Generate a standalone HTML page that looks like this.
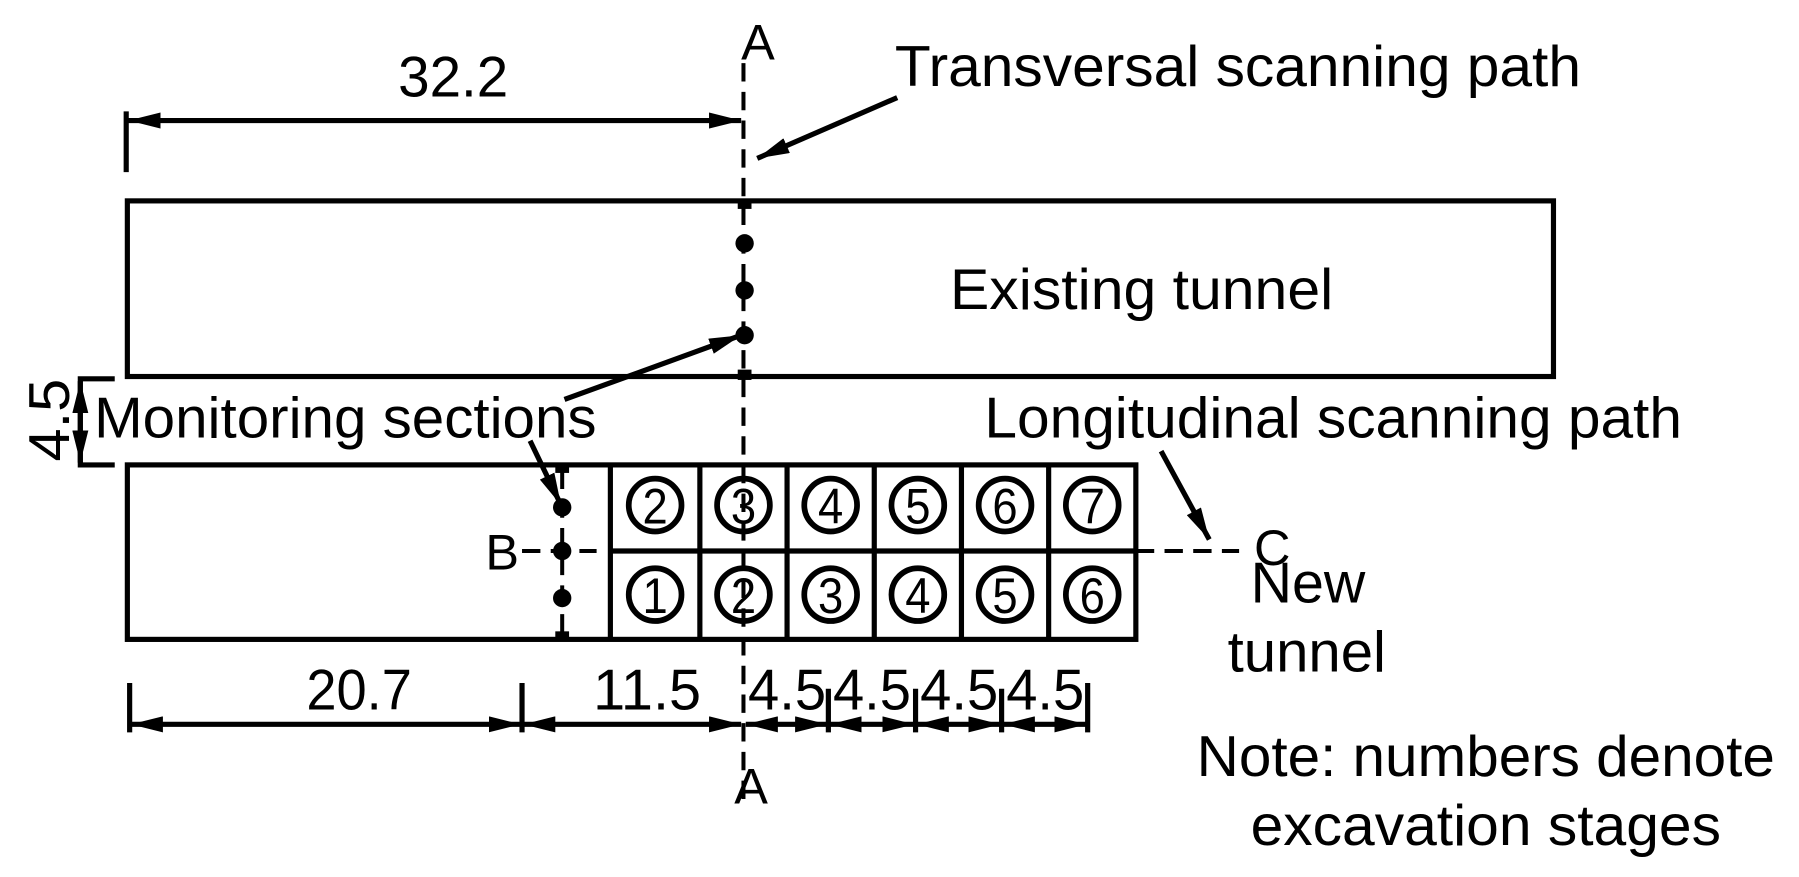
<!DOCTYPE html>
<html><head><meta charset="utf-8"><style>html,body{margin:0;padding:0;background:#fff}svg{display:block}</style></head>
<body>
<svg width="1799" height="877" viewBox="0 0 1568 764" preserveAspectRatio="none" xmlns="http://www.w3.org/2000/svg">
<defs>
<marker id="big" markerWidth="28" markerHeight="14" refX="28" refY="7" orient="auto-start-reverse" markerUnits="userSpaceOnUse"><path d="M0,0 L28,7 L0,14 z" fill="#000"/></marker>
</defs>
<g fill="none" stroke="#000" stroke-width="4.5">
<rect x="111" y="175" width="1243" height="153"/>
<rect x="111" y="405" width="879" height="152"/>
<path d="M532 405V557M610 405V557M686 405V557M762 405V557M838 405V557M914 405V557M532 480H990"/>
<path d="M648 55V700" stroke-width="3.5" stroke-dasharray="16,9"/>
<path d="M490 410V555" stroke-width="3.5" stroke-dasharray="16,9"/>
<path d="M455 480H520M990 480H1080" stroke-width="3.5" stroke-dasharray="16,9"/>
<path d="M110 97V150"/>
<path d="M112 105H646" marker-start="url(#big)" marker-end="url(#big)"/>
<path d="M100 330H70V405H100"/>
<path d="M70 332V403" marker-start="url(#big)" marker-end="url(#big)"/>
<path d="M113 595V638M455 595V638M948 595V638M722 600V638M798 600V638M873 600V638"/>
<path d="M114 631H454" marker-start="url(#big)" marker-end="url(#big)"/>
<path d="M456 631H646" marker-start="url(#big)" marker-end="url(#big)"/>
<path d="M650 631H721" marker-start="url(#big)" marker-end="url(#big)"/>
<path d="M723 631H797" marker-start="url(#big)" marker-end="url(#big)"/>
<path d="M799 631H872" marker-start="url(#big)" marker-end="url(#big)"/>
<path d="M874 631H947" marker-start="url(#big)" marker-end="url(#big)"/>
<path d="M782 85L660 138" marker-end="url(#big)"/>
<path d="M492 348L646 292" marker-end="url(#big)"/>
<path d="M462 384L489 440" marker-end="url(#big)"/>
<path d="M1012 393L1054 470" marker-end="url(#big)"/>
<g stroke-width="5">
<circle cx="571" cy="440" r="23"/><circle cx="648" cy="440" r="23"/><circle cx="724" cy="440" r="23"/><circle cx="800" cy="440" r="23"/><circle cx="876" cy="440" r="23"/><circle cx="952" cy="440" r="23"/>
<circle cx="571" cy="518" r="23"/><circle cx="648" cy="518" r="23"/><circle cx="724" cy="518" r="23"/><circle cx="800" cy="518" r="23"/><circle cx="876" cy="518" r="23"/><circle cx="952" cy="518" r="23"/>
</g>
</g>
<g fill="#000">
<circle cx="649" cy="212" r="8"/><circle cx="649" cy="253" r="8"/><circle cx="649" cy="292" r="8"/>
<rect x="643" y="173" width="12" height="9"/><rect x="643" y="322" width="12" height="9"/>
<circle cx="490" cy="442" r="8"/><circle cx="490" cy="480" r="8"/><circle cx="490" cy="521" r="8"/>
<rect x="484" y="405" width="12" height="7"/><rect x="484" y="550" width="12" height="8"/>
</g>
<g font-family="'Liberation Sans',sans-serif" font-size="50" fill="#000">
<text x="347" y="84" textLength="96" lengthAdjust="spacingAndGlyphs">32.2</text>
<text x="646" y="52" font-size="44">A</text>
<text x="640" y="700" font-size="44">A</text>
<text x="423" y="496" font-size="44">B</text>
<text x="1093" y="492" font-size="44">C</text>
<text x="780" y="75" textLength="598" lengthAdjust="spacingAndGlyphs">Transversal scanning path</text>
<text x="828" y="269" textLength="334" lengthAdjust="spacingAndGlyphs">Existing tunnel</text>
<text x="82" y="381" textLength="438" lengthAdjust="spacingAndGlyphs">Monitoring sections</text>
<text x="858" y="381" textLength="608" lengthAdjust="spacingAndGlyphs">Longitudinal scanning path</text>
<text x="1090" y="525" textLength="100" lengthAdjust="spacingAndGlyphs">New</text>
<text x="1070" y="585" textLength="138" lengthAdjust="spacingAndGlyphs">tunnel</text>
<text x="1043" y="676" textLength="504" lengthAdjust="spacingAndGlyphs">Note: numbers denote</text>
<text x="1090" y="736" textLength="410" lengthAdjust="spacingAndGlyphs">excavation stages</text>
<text x="267" y="618" textLength="92" lengthAdjust="spacingAndGlyphs">20.7</text>
<text x="517" y="618" textLength="94" lengthAdjust="spacingAndGlyphs">11.5</text>
<text x="652" y="618" textLength="68" lengthAdjust="spacingAndGlyphs">4.5</text>
<text x="726" y="618" textLength="68" lengthAdjust="spacingAndGlyphs">4.5</text>
<text x="802" y="618" textLength="68" lengthAdjust="spacingAndGlyphs">4.5</text>
<text x="877" y="618" textLength="68" lengthAdjust="spacingAndGlyphs">4.5</text>
<text transform="translate(60,402) rotate(-90)" textLength="72" lengthAdjust="spacingAndGlyphs">4.5</text>
<g text-anchor="middle" font-size="44">
<text x="571" y="456" textLength="22" lengthAdjust="spacingAndGlyphs">2</text><text x="648" y="456" textLength="22" lengthAdjust="spacingAndGlyphs">3</text><text x="724" y="456" textLength="22" lengthAdjust="spacingAndGlyphs">4</text><text x="800" y="456" textLength="22" lengthAdjust="spacingAndGlyphs">5</text><text x="876" y="456" textLength="22" lengthAdjust="spacingAndGlyphs">6</text><text x="952" y="456" textLength="22" lengthAdjust="spacingAndGlyphs">7</text>
<text x="571" y="534" textLength="22" lengthAdjust="spacingAndGlyphs">1</text><text x="648" y="534" textLength="22" lengthAdjust="spacingAndGlyphs">2</text><text x="724" y="534" textLength="22" lengthAdjust="spacingAndGlyphs">3</text><text x="800" y="534" textLength="22" lengthAdjust="spacingAndGlyphs">4</text><text x="876" y="534" textLength="22" lengthAdjust="spacingAndGlyphs">5</text><text x="952" y="534" textLength="22" lengthAdjust="spacingAndGlyphs">6</text>
</g>
</g>
</svg>
</body></html>
